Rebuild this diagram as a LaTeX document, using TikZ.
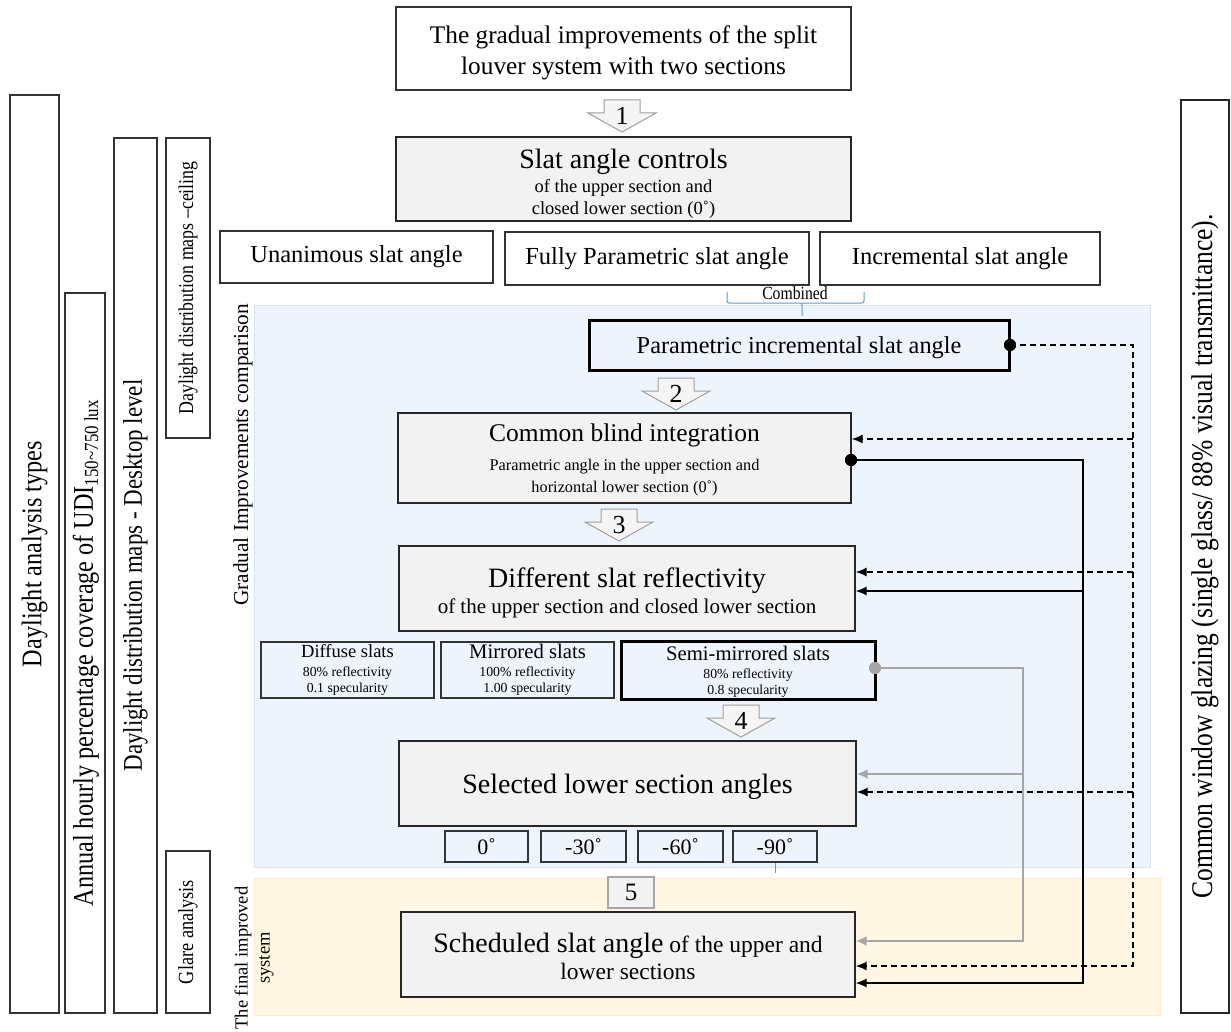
\documentclass[tikz,border=0pt]{standalone}
\usepackage{fontspec}
\setmainfont{Liberation Serif}
\newfontfamily\narrowfont[FakeStretch=0.85]{Liberation Serif}
\usetikzlibrary{arrows.meta,calc}
\definecolor{bgblue}{HTML}{EEF4FC}
\definecolor{bgblueline}{HTML}{D6E4F6}
\definecolor{bgyellow}{HTML}{FFF6E3}
\definecolor{bgyellowline}{HTML}{FBEDC8}
\definecolor{boxgray}{HTML}{F2F2F2}
\definecolor{linegray}{HTML}{A6A6A6}
\definecolor{bracketblue}{HTML}{5B9BD5}
\newcommand\fsz[2]{\fontsize{#1}{#2}\selectfont}
\newcommand\blockarrow[4]{%
  \draw[arrowshape] (#2-18,#3) -- (#2+18,#3) -- (#2+18,#3+13) -- (#2+34,#3+13) -- (#2,#3+32) -- (#2-34,#3+13) -- (#2-18,#3+13) -- cycle;
  \node[font=\fsz{26}{28}, inner sep=0pt] (#1) at (#2,#3+16) {#4};}
\begin{document}
\begin{tikzpicture}[x=1pt,y=-1pt,
  box/.style={draw=black!85, line width=1.4pt, fill=boxgray, inner sep=0pt, align=center},
  wbox/.style={draw=black!80, line width=1.2pt, fill=white, inner sep=0pt, align=center},
  tbox/.style={draw=black!80, line width=1.2pt, inner sep=0pt, align=center},
  thickbox/.style={draw=black, line width=3pt, inner sep=0pt, align=center},
  lbl/.style={inner sep=0pt, align=center},
  lbox/.style={draw=black!80, line width=1.2pt, fill=white, inner sep=0pt, align=center},
  vtext/.style={rotate=90, inner sep=0pt, align=center},
  arrowshape/.style={draw=gray!75, fill=gray!8, line width=1pt},
  dashconn/.style={dashed, dash pattern=on 6pt off 4pt, line width=1.2pt, -{Latex[length=11pt,width=9pt]}},
  solidconn/.style={line width=1.2pt, -{Latex[length=11pt,width=9pt]}},
  grayconn/.style={draw=linegray, line width=2.6pt, -{Latex[length=11pt,width=10pt]}},
  dot/.style={circle, fill=black, inner sep=0pt, minimum size=12pt},
  gdot/.style={circle, fill=linegray, inner sep=0pt, minimum size=12pt}
]
\useasboundingbox (0,0) rectangle (1231,1032);
\fill[white] (0,0) rectangle (1231,1032);

% background regions
\filldraw[fill=bgblue, draw=bgblueline, line width=1pt] (254,305) rectangle (1150,867);
\filldraw[fill=bgyellow, draw=bgyellowline, line width=1pt] (254,878) rectangle (1160,1015);

% left vertical boxes
\node[lbox, minimum width=49pt, minimum height=918pt] (L1) at (34.5,554) {};
\node[vtext, font=\narrowfont\fsz{28.5}{30}] (L1t) at (L1.center) {Daylight analysis types};
\node[lbox, minimum width=40pt, minimum height=720pt] (L2) at (85,653) {};
\node[vtext, font=\narrowfont\fsz{28.5}{30}] (L2t) at ([xshift=1pt]L2.center) {Annual hourly percentage coverage of UDI\textsubscript{150\textasciitilde750 lux}};
\node[lbox, minimum width=43pt, minimum height=875pt] (L3) at (135.5,575.5) {};
\node[vtext, font=\narrowfont\fsz{27}{30}] (L3t) at (L3.center) {Daylight distribution maps - Desktop level};
\node[lbox, minimum width=44pt, minimum height=300pt] (L4) at (188,288) {};
\node[vtext, font=\narrowfont\fsz{21}{24}] (L4t) at (L4.center) {Daylight distribution maps –ceiling};
\node[lbox, minimum width=44pt, minimum height=162pt] (L5) at (188,932) {};
\node[vtext, font=\narrowfont\fsz{21.5}{24}] (L5t) at (L5.center) {Glare analysis};

% right vertical box
\node[lbox, draw=black!85, line width=1.6pt, minimum width=48pt, minimum height=913pt] (R) at (1205,556.5) {};
\node[vtext, font=\narrowfont\fsz{30}{32}] (Rt) at (R.center) {Common window glazing (single glass/ 88\% visual transmittance).};

% region labels
\node[vtext, font=\fsz{21.3}{22}] (gic) at (243,455) {Gradual Improvements comparison};
\node[vtext, font=\fsz{18.5}{22}] (fis) at (254,958) {The final improved\\system};

% main boxes
\node[wbox, line width=1.5pt, minimum width=455pt, minimum height=83pt] (top) at (623.5,48.5) {};
\node[lbl, font=\fsz{25.3}{31}] (topt) at ([yshift=-4pt]top.center)
  {The gradual improvements of the split\\louver system with two sections};
\blockarrow{a1}{622}{100}{1}
\node[box, minimum width=455pt, minimum height=84pt] (sac) at (623.5,179) {};
\node[lbl, font=\fsz{18.5}{22}] (sact) at ([yshift=-5pt]sac.center)
  {{\fsz{28}{30}Slat angle controls}\\[2pt]of the upper section and\\closed lower section (0˚)};

\node[wbox, minimum width=273pt, minimum height=52pt, font=\fsz{24.5}{26}] (una) at (356.5,257) {Unanimous slat angle};
\node[wbox, minimum width=304pt, minimum height=53pt, font=\fsz{24.5}{26}] (fps) at (657,258.5) {Fully Parametric slat angle};
\node[wbox, minimum width=280pt, minimum height=53pt, font=\fsz{24.5}{26}] (inc) at (960,258.5) {Incremental slat angle};

% combined bracket
\draw[bracketblue, line width=1pt, rounded corners=2pt] (727,292) -- (727,303) -- (802,303) -- (802,316);
\draw[bracketblue, line width=1pt, rounded corners=2pt] (864,292) -- (864,303) -- (802,303);
\node[font=\narrowfont\fsz{18.5}{20}, inner sep=0pt] (comb) at (795,293) {Combined};

\node[thickbox, minimum width=420pt, minimum height=50pt] (pis) at (799,345) {};
\node[lbl, font=\fsz{24.3}{26}] (pist) at ([yshift=-3pt]pis.center) {Parametric incremental slat angle};
\node[dot] (pisdot) at (1010,345) {};

\blockarrow{a2}{676}{378}{2}
\node[box, minimum width=453pt, minimum height=90pt] (cbi) at (624.5,458) {};
\node[lbl, font=\fsz{16.3}{22}] (cbit) at ([yshift=-2pt]cbi.center)
  {{\fsz{25.5}{28}Common blind integration}\\[7pt]Parametric angle in the upper section and\\horizontal lower section (0˚)};
\node[dot] (cbidot) at (851,460) {};

\blockarrow{a3}{619}{509}{3}
\node[box, minimum width=456pt, minimum height=85pt] (dsr) at (627,588.5) {};
\node[lbl, font=\fsz{21}{26}] (dsrt) at ([yshift=-4pt]dsr.center)
  {{\fsz{28}{30}Different slat reflectivity}\\of the upper section and closed lower section};

\node[tbox, minimum width=173pt, minimum height=56pt, font=\fsz{13.8}{16}] (dif) at (347.5,670)
  {{\fsz{18.5}{20}Diffuse slats}\\[3pt]80\% reflectivity\\0.1 specularity};
\node[tbox, minimum width=173pt, minimum height=56pt, font=\fsz{13.8}{16}] (mir) at (527.5,670)
  {{\fsz{20.7}{22}Mirrored slats}\\[2pt]100\% reflectivity\\1.00 specularity};
\node[thickbox, minimum width=254pt, minimum height=58pt] (smi) at (748,670) {};
\node[lbl, font=\fsz{13.8}{16}] (smit) at ([yshift=-2pt]smi.center)
  {{\fsz{20.7}{22}Semi-mirrored slats}\\[2pt]80\% reflectivity\\0.8 specularity};
\node[gdot] (smdot) at (875,668) {};

\blockarrow{a4}{741}{705}{4}
\node[box, minimum width=457pt, minimum height=85pt] (sla) at (627.5,783.5) {};
\node[lbl, font=\fsz{28}{30}] (slat) at ([yshift=-3pt]sla.center) {Selected lower section angles};

\node[tbox, minimum width=83pt, minimum height=31pt, font=\fsz{22}{24}] (a0) at (486.5,846.5) {0˚};
\node[tbox, minimum width=85pt, minimum height=31pt, font=\fsz{22}{24}] (a30) at (583.5,846.5) {-30˚};
\node[tbox, minimum width=85pt, minimum height=31pt, font=\fsz{22}{24}] (a60) at (680.5,846.5) {-60˚};
\node[tbox, minimum width=84pt, minimum height=31pt, font=\fsz{22}{24}] (a90) at (775,846.5) {-90˚};
\draw[bracketblue, line width=1pt] (a90.south) -- ++(0,10);

\node[draw=gray!70, line width=2pt, fill=boxgray, minimum width=46pt, minimum height=31pt, inner sep=0pt, font=\fsz{25}{26}] (n5) at (631,892.5) {5};
\node[box, minimum width=454pt, minimum height=85pt] (sch) at (628,954.5) {};
\node[lbl, font=\fsz{23.5}{27}] (scht) at ([yshift=-2pt]sch.center)
  {{\fsz{28}{28}Scheduled slat angle} of the upper and\\lower sections};

% connectors: dashed
\draw[dashconn] (pisdot.center) -- (1133,345) -- (1133,966) -- (sch.east |- 0,966);
\draw[dashconn] (1133,439) -- (cbi.east |- 0,439);
\draw[dashconn] (1133,572) -- (dsr.east |- 0,572);
\draw[dashconn] (1133,792) -- (sla.east |- 0,792);
% connectors: solid
\draw[solidconn] (cbidot.center) -- (1083,460) -- (1083,983) -- (sch.east |- 0,983);
\draw[solidconn] (1083,591) -- (dsr.east |- 0,591);
% connectors: gray
\draw[grayconn] (smdot.center) -- (1023,668) -- (1023,941) -- (sch.east |- 0,941);
\draw[grayconn] (1023,774) -- (sla.east |- 0,774);
\node[dot] at (pisdot) {};
\node[dot] at (cbidot) {};
\node[gdot] at (smdot) {};
\end{tikzpicture}
\end{document}
